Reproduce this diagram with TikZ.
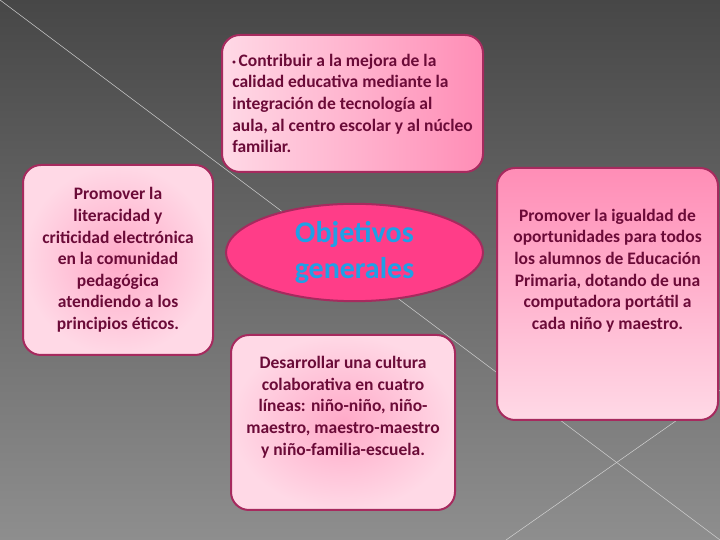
\documentclass[tikz,border=0pt]{standalone}
\usepackage{fontspec}
\setmainfont{Carlito}
\usepackage{tikz}
\usetikzlibrary{shapes.geometric}

\definecolor{fondoalto}{HTML}{474747}
\definecolor{fondobajo}{HTML}{8E8E8E}
\definecolor{rosaclaro}{HTML}{FFD9E6}
\definecolor{rosafuerte}{HTML}{FF8DB6}
\definecolor{borde}{HTML}{A62A5E}
\definecolor{letra}{HTML}{6B0B38}
\definecolor{fucsia}{HTML}{FF3D88}
\definecolor{celeste}{HTML}{1FA0E6}

\begin{document}
\begin{tikzpicture}[x=1pt,y=1pt,
				caja/.style={draw=borde, line width=2pt, rounded corners=18pt,
					text=letra, font=\fontsize{17.5}{21.6}\selectfont\bfseries, align=center},
				linea/.style={draw=white!65!gray, line width=0.5pt}]
				\fill[top color=fondoalto, bottom color=fondobajo] (0,0) rectangle (720,540);
				\useasboundingbox (0,0) rectangle (720,540);
				\draw[linea] (0,540) -- (720,0);
				\draw[linea] (720,150) -- (506,0);
				\node[caja, left color=rosaclaro, right color=rosafuerte, align=left,
					minimum width=261pt, minimum height=137pt] (mejora) at (352.5,436.5)
					{\raisebox{1.5pt}{\scriptsize •}\,Contribuir a la mejora de la\\calidad educativa mediante la\\integración de tecnología al\\aula, al centro escolar y al núcleo\\familiar.};
				\node[caja, inner color=rosafuerte!75, outer color=rosaclaro,
					minimum width=190pt, minimum height=190pt] (literacidad) at (118,280)
					{Promover la\\literacidad y\\criticidad electrónica\\en la comunidad\\pedagógica\\atendiendo a los\\principios éticos.};
				\node[ellipse, draw=borde, line width=2pt, fill=fucsia, text=celeste,
					font=\fontsize{30}{36}\selectfont\bfseries, align=center,
					minimum width=257pt, minimum height=95pt] (objetivos) at (354.5,287.5)
					{Objetivos\\generales};
				\node[caja, top color=rosafuerte, bottom color=rosaclaro,
					minimum width=221pt, minimum height=252pt] (igualdad) at (607.5,246)
					{Promover la igualdad de\\oportunidades para todos\\los alumnos de Educación\\Primaria, dotando de una\\computadora portátil a\\cada niño y maestro.\\[28pt]\mbox{}};
				\node[caja, inner color=rosafuerte!75, outer color=rosaclaro,
					minimum width=224pt, minimum height=175pt] (cultura) at (343,117.5)
					{Desarrollar una cultura\\colaborativa en cuatro\\líneas: niño-niño, niño-\\maestro, maestro-maestro\\y niño-familia-escuela.\\[12pt]\mbox{}};
			\end{tikzpicture}
\end{document}
